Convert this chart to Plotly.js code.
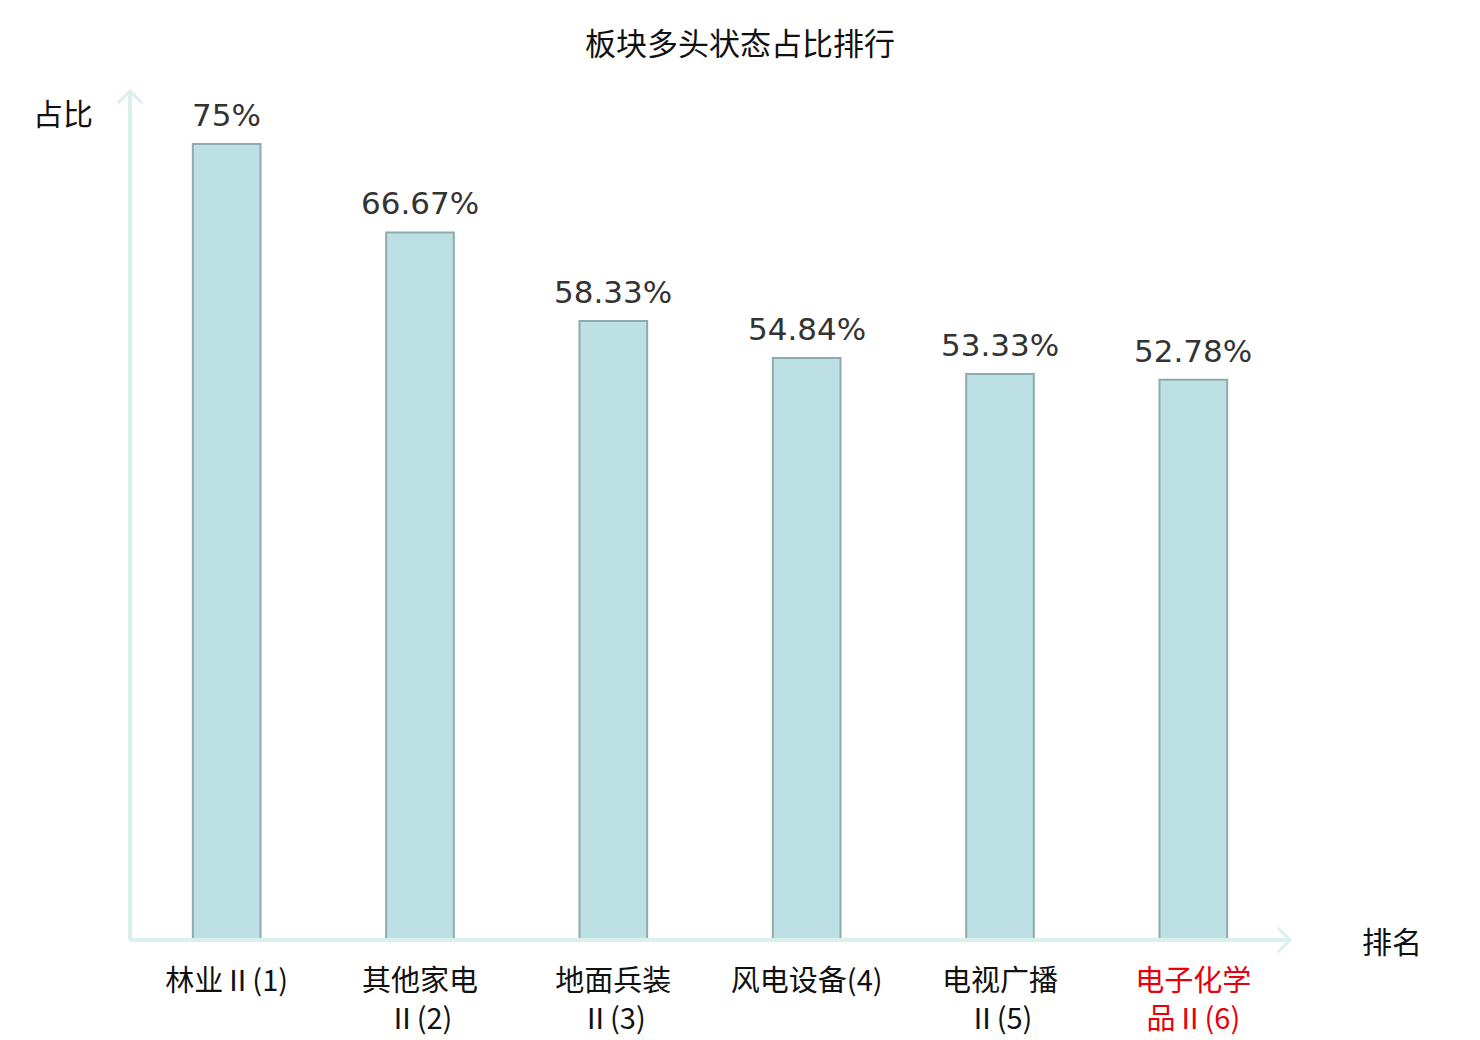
<!DOCTYPE html>
<html>
<head>
<meta charset="utf-8">
<script src="https://cdn.plot.ly/plotly-3.0.1.min.js"></script>
<style>
  body { margin: 0; background: #fff; }
  #plotDiv { width: 1480px; height: 1040px; }
</style>
</head>
<body>
<div id="plotDiv"></div>
<script>
'use strict';

// sector names and their bullish share (%)
const sectors = ['林业Ⅱ(1)', '其他家电<br>Ⅱ(2)', '地面兵装<br>Ⅱ(3)', '风电设备(4)', '电视广播<br>Ⅱ(5)', '电子化学<br>品Ⅱ(6)'];
const shares = [75, 66.67, 58.33, 54.84, 53.33, 52.78];
const shareLabels = ['75%', '66.67%', '58.33%', '54.84%', '53.33%', '52.78%'];
const labelColors = ['#111', '#111', '#111', '#111', '#111', '#e8000b'];

const cjk = '"Noto Sans CJK SC", "DejaVu Sans", sans-serif';
const axisColor = '#daf0ed';

const idx = sectors.map((s, i) => i);
const tickText = sectors.map((s, i) => '<span style="color:' + labelColors[i] + '">' + s + '</span>');

var data = [{
    type: 'bar',
    x: idx,
    y: shares,
    marker: {
        color: '#bce0e3',
        line: {color: '#8eaaab', width: 2}
    },
    hoverinfo: 'skip'
}];

// value labels above bars
var annotations = idx.map(i => ({
    x: i, y: shares[i], xref: 'x', yref: 'y',
    text: shareLabels[i], showarrow: false,
    yanchor: 'bottom', yshift: 9,
    font: {family: '"DejaVu Sans", sans-serif', size: 31, color: '#333'}
}));

annotations.push({
    x: -0.058, y: 0.975, xref: 'paper', yref: 'paper',
    text: '占比', showarrow: false, xanchor: 'center', yanchor: 'middle',
    font: {family: cjk, size: 30, color: '#111'}
});
annotations.push({
    x: 1.088, y: 0.0, xref: 'paper', yref: 'paper',
    text: '排名', showarrow: false, xanchor: 'center', yanchor: 'middle',
    font: {family: cjk, size: 30, color: '#111'}
});

const ax = 12 / 1160, ay = 12 / 849;
var shapes = [
    {type: 'line', xref: 'paper', yref: 'paper', x0: 0, y0: 0, x1: 0, y1: 1.0,
        line: {color: axisColor, width: 4}},
    {type: 'path', xref: 'paper', yref: 'paper',
        path: 'M ' + (-ax) + ' ' + (1 - ay) + ' L 0 1 L ' + ax + ' ' + (1 - ay),
        line: {color: axisColor, width: 3}},
    {type: 'line', xref: 'paper', yref: 'paper', x0: 0, y0: 0, x1: 1, y1: 0,
        line: {color: axisColor, width: 4}},
    {type: 'path', xref: 'paper', yref: 'paper',
        path: 'M ' + (1 - ax) + ' ' + (ay) + ' L 1 0 L ' + (1 - ax) + ' ' + (-ay),
        line: {color: axisColor, width: 3}}
];

var layout = {
    width: 1480,
    height: 1040,
    paper_bgcolor: '#fff',
    plot_bgcolor: '#fff',
    margin: {l: 130, r: 190, t: 91, b: 100, pad: 0},
    title: {
        text: '板块多头状态占比排行',
        x: 0.5, xanchor: 'center',
        y: 0.958, yanchor: 'middle',
        font: {family: cjk, size: 31, color: '#111'}
    },
    bargap: 0.65,
    showlegend: false,
    xaxis: {
        range: [-0.5, 5.5],
        tickvals: idx,
        ticktext: tickText,
        showgrid: false,
        zeroline: false,
        showline: false,
        ticks: 'outside',
        ticklen: 15,
        tickcolor: 'rgba(0,0,0,0)',
        tickfont: {family: cjk, size: 29, color: '#111'},
        tickangle: 0,
        fixedrange: true
    },
    yaxis: {
        range: [0, 80],
        showgrid: false,
        zeroline: false,
        showline: false,
        showticklabels: false,
        ticks: '',
        fixedrange: true
    },
    annotations: annotations,
    shapes: shapes
};

Plotly.newPlot('plotDiv', data, layout, {displayModeBar: false, staticPlot: true});
</script>
</body>
</html>
